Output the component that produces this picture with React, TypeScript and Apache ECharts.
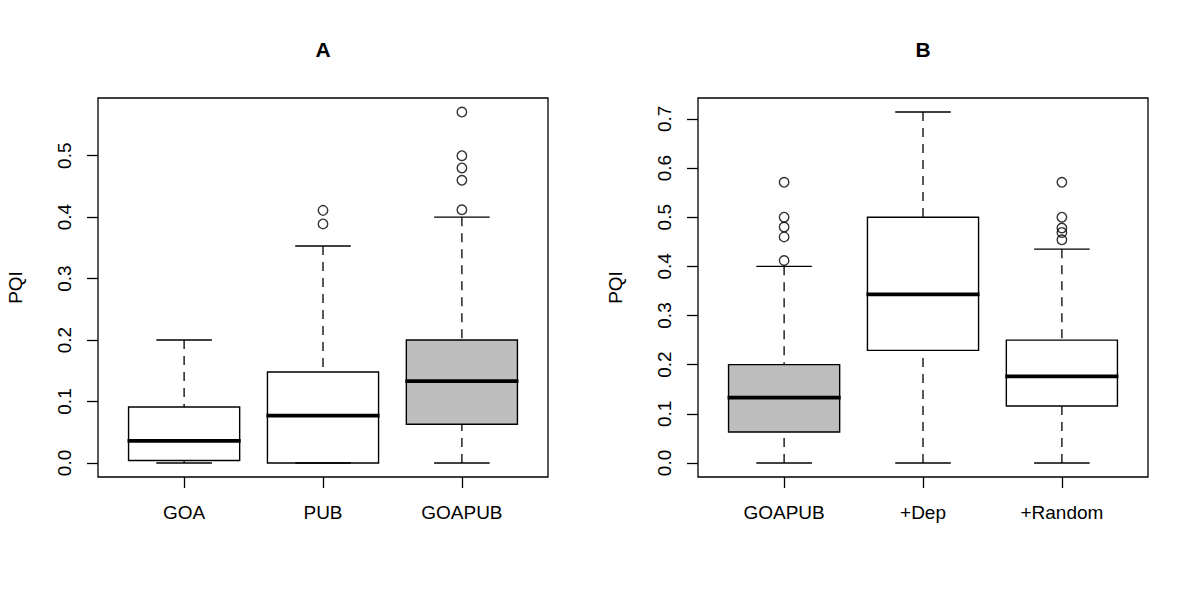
import React, { useEffect, useRef } from "react";
import * as echarts from "echarts";

// ---- data ----
const titles = ["A", "B"];
const yName = "PQI";
const catsA = ["GOA", "PUB", "GOAPUB"];
const catsB = ["GOAPUB", "+Dep", "+Random"];
// [lower whisker, Q1, median, Q3, upper whisker]
const statsA = [
  [0, 0.004, 0.036, 0.091, 0.2],
  [0, 0, 0.077, 0.148, 0.353],
  [0, 0.063, 0.133, 0.2, 0.4],
];
const statsB = [
  [0, 0.063, 0.133, 0.2, 0.4],
  [0, 0.229, 0.343, 0.5, 0.714],
  [0, 0.116, 0.176, 0.25, 0.435],
];
const outliersA = [[], [0.389, 0.411], [0.412, 0.46, 0.48, 0.5, 0.571]];
const outliersB = [[0.412, 0.46, 0.48, 0.5, 0.571], [], [0.454, 0.469, 0.478, 0.5, 0.571]];
const filledA = [false, false, true];
const filledB = [true, false, false];
const ticksA = [0, 0.1, 0.2, 0.3, 0.4, 0.5];
const ticksB = [0, 0.1, 0.2, 0.3, 0.4, 0.5, 0.6, 0.7];

const FONT = "'Liberation Sans', Arial, Helvetica, sans-serif";
const GRAY = "#BEBEBE";

function extent(stats: number[][], outs: number[][]) {
  let lo = Infinity;
  let hi = -Infinity;
  stats.forEach((s) => s.forEach((v) => { lo = Math.min(lo, v); hi = Math.max(hi, v); }));
  outs.forEach((o) => o.forEach((v) => { lo = Math.min(lo, v); hi = Math.max(hi, v); }));
  const pad = (hi - lo) * 0.04;
  return [lo - pad, hi + pad];
}

function renderBox(params: any, api: any) {
  const x = api.value(0);
  const lo = api.coord([x, api.value(1)]);
  const q1 = api.coord([x, api.value(2)]);
  const med = api.coord([x, api.value(3)]);
  const q3 = api.coord([x, api.value(4)]);
  const hi = api.coord([x, api.value(5)]);
  const filled = api.value(6) === 1;
  const hw = api.size([0.8, 0])[0] / 2;
  const cw = hw / 2;
  const cx = lo[0];
  const dash = { stroke: "#000", lineWidth: 1.3, lineDash: [9, 7], fill: "none" };
  const solid = { stroke: "#000", lineWidth: 1.4, fill: "none" };
  const line = (x1: number, y1: number, x2: number, y2: number, style: any) => ({
    type: "line",
    shape: { x1, y1, x2, y2 },
    style,
  });
  return {
    type: "group",
    children: [
      line(cx, lo[1], cx, q1[1], dash),
      line(cx, hi[1], cx, q3[1], dash),
      line(cx - cw, lo[1], cx + cw, lo[1], solid),
      line(cx - cw, hi[1], cx + cw, hi[1], solid),
      {
        type: "rect",
        shape: { x: cx - hw, y: q3[1], width: 2 * hw, height: q1[1] - q3[1] },
        style: { fill: filled ? GRAY : "none", stroke: "#000", lineWidth: 1.4 },
      },
      line(cx - hw - 1, med[1], cx + hw + 1, med[1], { stroke: "#000", lineWidth: 3.8 }),
    ],
  };
}

export default function App() {
  const ref = useRef<HTMLDivElement>(null);
  useEffect(() => {
    if (!ref.current) return;
    const chart = echarts.init(ref.current, null, { renderer: "svg" });
    const panels = [
      { cats: catsA, stats: statsA, outs: outliersA, filled: filledA, ticks: ticksA, left: 98 },
      { cats: catsB, stats: statsB, outs: outliersB, filled: filledB, ticks: ticksB, left: 698 },
    ];
    const grid: any[] = [];
    const xAxis: any[] = [];
    const yAxis: any[] = [];
    const series: any[] = [];
    const graphic: any[] = [];
    panels.forEach((p, i) => {
      grid.push({
        left: p.left,
        top: 98,
        width: 450,
        height: 379,
        show: true,
        borderColor: "#000",
        borderWidth: 1.3,
        backgroundColor: "transparent",
      });
      xAxis.push({
        type: "value",
        gridIndex: i,
        min: 0.38,
        max: 3.62,
        axisLine: { show: false, onZero: false },
        splitLine: { show: false },
        axisTick: {
          show: true,
          length: 11,
          customValues: [1, 2, 3],
          lineStyle: { color: "#000", width: 1.3 },
        },
        axisLabel: {
          customValues: [1, 2, 3],
          formatter: (v: number) => p.cats[Math.round(v) - 1],
          color: "#000",
          fontSize: 19,
          fontFamily: FONT,
          margin: 26,
        },
      });
      const [ymin, ymax] = extent(p.stats, p.outs);
      yAxis.push({
        type: "value",
        gridIndex: i,
        min: ymin,
        max: ymax,
        name: yName,
        nameLocation: "middle",
        nameRotate: 90,
        nameGap: 73,
        nameTextStyle: { color: "#000", fontSize: 19, fontFamily: FONT },
        axisLine: { show: false, onZero: false },
        splitLine: { show: false },
        axisTick: {
          show: true,
          length: 11,
          customValues: p.ticks,
          lineStyle: { color: "#000", width: 1.3 },
        },
        axisLabel: {
          customValues: p.ticks,
          formatter: (v: number) => v.toFixed(1),
          rotate: 90,
          color: "#000",
          fontSize: 19,
          fontFamily: FONT,
          margin: 24,
        },
      });
      series.push({
        type: "custom",
        xAxisIndex: i,
        yAxisIndex: i,
        renderItem: renderBox,
        encode: { x: 0, y: [1, 2, 3, 4, 5] },
        data: p.stats.map((s, k) => [k + 1, ...s, p.filled[k] ? 1 : 0]),
        z: 2,
      });
      const pts: number[][] = [];
      p.outs.forEach((o, k) => o.forEach((v) => pts.push([k + 1, v])));
      series.push({
        type: "scatter",
        xAxisIndex: i,
        yAxisIndex: i,
        symbol: "circle",
        symbolSize: 9.5,
        itemStyle: { color: "transparent", borderColor: "#000", borderWidth: 1.4 },
        data: pts,
        z: 3,
      });
      graphic.push({
        type: "text",
        x: p.left + 225,
        y: 49,
        style: {
          text: titles[i],
          textAlign: "center",
          textVerticalAlign: "middle",
          fontSize: 21,
          fontWeight: "bold",
          fontFamily: FONT,
          fill: "#000",
        },
      });
    });
    chart.setOption({
      animation: false,
      backgroundColor: "#fff",
      grid,
      xAxis,
      yAxis,
      series,
      graphic,
    });
    return () => chart.dispose();
  }, []);
  return (
    <div
      ref={ref}
      style={{ position: "fixed", left: 0, top: 0, width: 1200, height: 600 }}
    />
  );
}
